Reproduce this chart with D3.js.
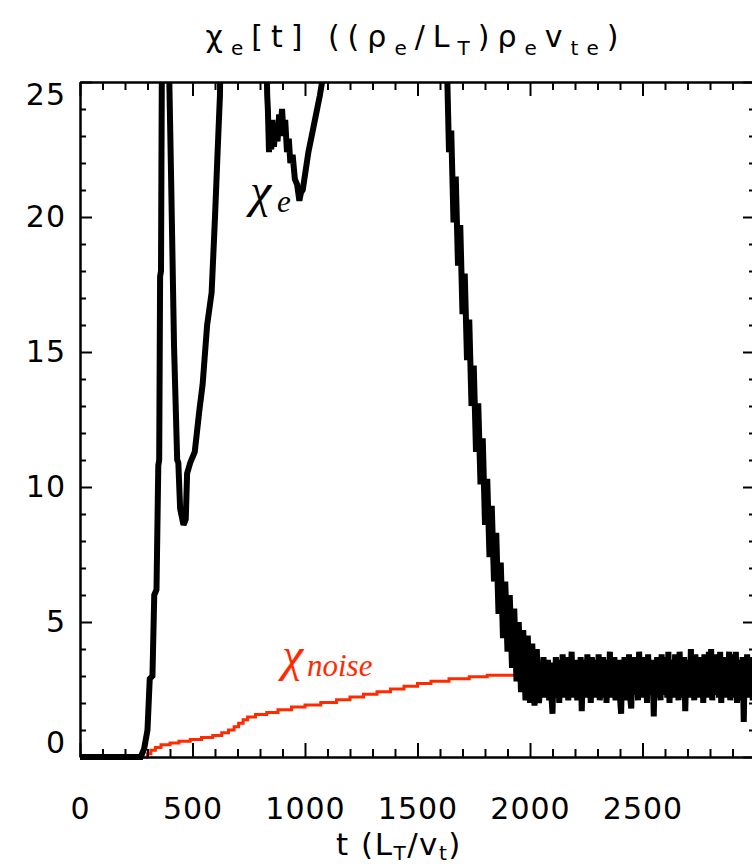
<!DOCTYPE html>
<html><head><meta charset="utf-8">
<script src="https://cdn.jsdelivr.net/npm/d3@7"></script>
<style>body{margin:0;background:#fff}svg{display:block}</style>
</head><body><svg id="c" width="752" height="867"></svg>
<script>
// ---- data ----
// chi_e: early transient and decline (irregular sampling)
const chiTime = [0,100,200,270,285,300,310,322,330,340,348,352,356,360,366,380,396,405,418,432,437,445,460,470,476,490,510,530,545,565,585,600,612,622,630,820,
 832,835,840,845,850,855,862,870,878,885,892,898,905,912,920,928,935,945,955,965,975,982,990,1015,1037,1066,1080,1090,1600,1610,
 1620,1630,1640,1650,1660,1670,1680,1690,1700,1710,1720,1730,1740,1750,1760,1770,1780,1790,1800,1810,1820,1830,1840,1850,1860,1870,1880,1890,1900,1910,1920,1930,1940,1950,1960,1970,1980,1990,2000,2010,2020,2030,2040];
const chiValue = [0,0,0,0,0.3,1.0,2.9,3.0,6.0,6.2,10.8,11.0,17.8,18.0,30,30,25.5,21.4,15.2,11.0,10.9,9.2,8.6,8.8,10.5,10.9,11.3,12.8,13.8,16.0,17.2,20.0,22.5,24.5,30,30,
 24.5,24.0,22.4,23.2,22.5,23.6,22.6,23.4,22.8,23.8,23.2,24.0,23.0,23.6,22.4,22.9,22.0,22.3,21.4,21.2,20.6,20.9,21.0,22.4,23.3,24.5,25.2,30,30,30,
 27.5,26.0,22.4,23.2,19.8,21.5,18.2,19.7,16.4,17.9,14.7,16.2,13.0,14.5,11.3,13.1,10.1,11.8,8.6,10.3,7.4,9.3,6.5,8.3,5.3,7.2,4.4,6.5,3.9,6.0,3.3,5.5,2.8,5.0,2.4,4.7,2.1,4.5,2.0,4.2,1.9,4.0,2.0];
// chi_e: saturated turbulent tail, sampled every 5 time units from t = 2050
const tailStart = 2050, tailStep = 5;
const chiTailValue = [
 3.5,2.4,3.7,2.2,3.3,2.5,3.6,2.1,3.4,2.3,
 1.6,3.5,2.2,3.7,2.4,3.3,2.0,3.6,2.3,3.8,
 2.2,3.4,2.5,3.7,2.1,3.5,2.3,3.9,2.2,3.4,
 2.4,3.6,2.1,3.5,2.3,3.7,1.7,3.4,2.2,3.6,
 2.5,3.8,2.2,3.5,2.0,3.7,2.4,3.3,2.2,3.6,
 2.3,3.8,2.1,3.5,2.5,3.7,2.2,3.4,2.0,3.6,
 2.4,3.9,2.2,3.5,2.3,3.7,2.1,3.4,2.5,3.6,
 2.2,1.6,3.5,2.3,3.7,2.1,3.6,2.4,3.8,2.2,
 1.8,3.4,2.3,3.7,2.5,3.5,2.1,3.9,2.3,3.6,
 2.2,3.7,2.4,3.5,2.0,3.8,2.3,3.4,2.5,3.6,
 1.5,3.5,2.2,3.7,2.4,3.4,2.1,3.8,2.3,3.6,
 2.5,3.7,2.2,3.9,2.0,3.5,2.4,3.6,2.2,3.8,
 2.3,3.6,2.1,3.9,2.4,3.5,2.2,3.7,1.7,3.4,
 2.4,3.6,2.2,4.0,2.3,3.5,2.1,3.8,2.5,3.6,
 2.2,3.7,2.4,3.5,2.0,3.8,2.3,3.6,2.2,3.9,
 2.4,4.0,2.1,3.6,2.3,3.8,2.5,3.5,2.2,3.9,
 2.0,3.6,2.4,3.7,2.2,3.5,2.3,3.9,2.1,3.6,
 2.4,3.8,2.2,3.9,2.0,3.6,2.3,3.5,2.1,3.7,
 1.3,3.6,2.3,3.8,2.2,3.5,2.4,3.7,2.1,3.6,
 2.4];
// chi_noise (stair-step)
const noiseTime  = [290,300,315,335,360,400,440,490,540,590,630,660,685,705,725,745,780,830,880,940,1000,1070,1140,1200,1260,1320,1380,1440,1500,1560,1640,1730,1810,1940,1990];
const noiseValue = [0,0.12,0.25,0.35,0.45,0.52,0.58,0.65,0.72,0.80,0.90,1.00,1.12,1.25,1.38,1.48,1.57,1.65,1.75,1.85,1.93,2.02,2.12,2.22,2.32,2.42,2.52,2.62,2.72,2.81,2.90,2.97,3.03,3.04,3.04];
const xTickLabels = [0,500,1000,1500,2000,2500];
const yTickLabels = [0,5,10,15,20,25];
const xMinorStep = 100, yMinorStep = 1;

// ---- drawing ----
const svg = d3.select('#c');
svg.append('rect').attr('width',752).attr('height',867).attr('fill','#fff');
const x = d3.scaleLinear().domain([0,3000]).range([80,755]);
const y = d3.scaleLinear().domain([0,25]).range([757,82]);
const font = "'DejaVu Sans', sans-serif";

svg.append('defs').append('clipPath').attr('id','clip')
  .append('rect').attr('x',x(0)-4).attr('y',y(25)).attr('width',x(3000)-x(0)+8).attr('height',y(0)-y(25)+6);

const noiseData = noiseTime.map((t,i)=>[t,noiseValue[i]]);
const chiData = chiTime.map((t,i)=>[t,chiValue[i]])
  .concat(chiTailValue.map((v,i)=>[tailStart+i*tailStep, v]));

const plot = svg.append('g').attr('clip-path','url(#clip)');
plot.append('path').datum(noiseData)
  .attr('d', d3.line().x(d=>x(d[0])).y(d=>y(d[1])).curve(d3.curveStepAfter)).attr('fill','none')
  .attr('stroke','#ff2a00').attr('stroke-width',3);
plot.append('path').datum(chiData)
  .attr('d', d3.line().x(d=>x(d[0])).y(d=>y(d[1]))).attr('fill','none')
  .attr('stroke','#000').attr('stroke-width',6).attr('stroke-linejoin','miter').attr('stroke-miterlimit',2);

const xMinor = d3.range(0,3001,xMinorStep).filter(v=>v%500!==0);
const xMajorAll = d3.range(0,3001,500);
const yMinor = d3.range(0,25.01,yMinorStep).filter(v=>v%5!==0);

function styleAxis(g){
  g.selectAll('path.domain').attr('stroke','#000').attr('stroke-width',2);
  g.selectAll('.tick line').attr('stroke','#000').attr('stroke-width',2);
  g.selectAll('text').attr('font-family',font).attr('font-size',30).attr('fill','#000').attr('letter-spacing',1);
}
const fmt = d3.format('d');
// bottom
const gb = svg.append('g').attr('transform',`translate(0,${y(0)})`)
  .call(d3.axisBottom(x).tickValues(xTickLabels).tickSize(-14).tickSizeOuter(0).tickPadding(41).tickFormat(fmt));
styleAxis(gb);
const gbm = svg.append('g').attr('transform',`translate(0,${y(0)})`)
  .call(d3.axisBottom(x).tickValues(xMinor).tickSize(-8).tickSizeOuter(0).tickFormat(''));
styleAxis(gbm);
// top
const gt = svg.append('g').attr('transform',`translate(0,${y(25)})`)
  .call(d3.axisTop(x).tickValues(xMajorAll).tickSize(-14).tickSizeOuter(0).tickFormat(''));
styleAxis(gt);
const gtm = svg.append('g').attr('transform',`translate(0,${y(25)})`)
  .call(d3.axisTop(x).tickValues(xMinor).tickSize(-8).tickSizeOuter(0).tickFormat(''));
styleAxis(gtm);
// left
const gl = svg.append('g').attr('transform',`translate(${x(0)},0)`)
  .call(d3.axisLeft(y).tickValues(yTickLabels).tickSize(-12).tickSizeOuter(0).tickPadding(14).tickFormat(fmt));
styleAxis(gl);
gl.selectAll('.tick text').attr('dy', d => d===0 ? '-0.15em' : d===25 ? '0.75em' : '0.32em');
const glm = svg.append('g').attr('transform',`translate(${x(0)},0)`)
  .call(d3.axisLeft(y).tickValues(yMinor).tickSize(-6).tickSizeOuter(0).tickFormat(''));
styleAxis(glm);
// right
const gr = svg.append('g').attr('transform',`translate(${x(3000)},0)`)
  .call(d3.axisRight(y).tickValues(yTickLabels).tickSize(-12).tickSizeOuter(0).tickFormat(''));
styleAxis(gr);
const grm = svg.append('g').attr('transform',`translate(${x(3000)},0)`)
  .call(d3.axisRight(y).tickValues(yMinor).tickSize(-6).tickSizeOuter(0).tickFormat(''));
styleAxis(grm);

// title & axis title
function richText(parent, xPos, yPos, parts, size, subSize, spacing, shift){
  const t = parent.append('text').attr('x',xPos).attr('y',yPos).attr('text-anchor','middle')
    .attr('font-family',font).attr('font-size',size).attr('letter-spacing',spacing).attr('fill','#000');
  let sub=false;
  parts.forEach(([s,isSub])=>{
    const dy = isSub && !sub ? shift : (!isSub && sub ? -shift : 0);
    t.append('tspan').attr('dy',dy).attr('font-size',isSub?subSize:size).text(s);
    sub=isSub;
  });
  return t;
}
richText(svg, 416, 47, [["χ",0],["e",1],["[t]  ((ρ",0],["e",1],["/L",0],["T",1],[")ρ",0],["e",1],["v",0],["te",1],[")",0]], 30, 20, 8, 8);
richText(svg, 399, 855, [["t (L",0],["T",1],["/v",0],["t",1],[")",0]], 31, 20, 1.5, 5);

// in-plot labels
const serif = "'Liberation Serif','Times New Roman',serif";
svg.append('text').attr('x',250).attr('y',207).attr('font-family',serif).attr('font-style','italic')
  .attr('font-size',48).attr('fill','#000').text('χ');
svg.append('text').attr('x',277).attr('y',212).attr('font-family',serif).attr('font-style','italic')
  .attr('font-size',31).attr('fill','#000').text('e');
svg.append('text').attr('x',282).attr('y',671).attr('font-family',serif).attr('font-style','italic')
  .attr('font-size',48).attr('fill','#ff2a00').text('χ');
svg.append('text').attr('x',307).attr('y',676).attr('font-family',serif).attr('font-style','italic')
  .attr('font-size',31).attr('fill','#ff2a00').text('noise');
</script></body></html>
